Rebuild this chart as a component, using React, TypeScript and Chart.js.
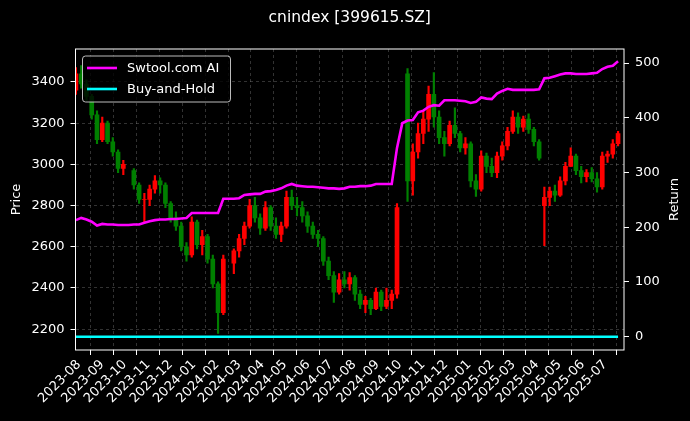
import React, { useEffect, useRef } from 'react';
import { Chart, registerables } from 'chart.js';

Chart.register(...registerables);

const TITLE = 'cnindex [399615.SZ]';
const STRATEGY_LABEL = 'Swtool.com AI';
const BUYHOLD_LABEL = 'Buy-and-Hold';
const PRICE_LABEL = 'Price';
const RETURN_LABEL = 'Return';

// weekly candles (Friday of each week); null = market closed that week
const weekDates = [
  '2023-07-28','2023-08-04','2023-08-11','2023-08-18','2023-08-25','2023-09-01','2023-09-08','2023-09-15','2023-09-22','2023-09-29',
  '2023-10-06','2023-10-13','2023-10-20','2023-10-27','2023-11-03','2023-11-10','2023-11-17','2023-11-24','2023-12-01','2023-12-08',
  '2023-12-15','2023-12-22','2023-12-29','2024-01-05','2024-01-12','2024-01-19','2024-01-26','2024-02-02','2024-02-09','2024-02-16',
  '2024-02-23','2024-03-01','2024-03-08','2024-03-15','2024-03-22','2024-03-29','2024-04-05','2024-04-12','2024-04-19','2024-04-26',
  '2024-05-03','2024-05-10','2024-05-17','2024-05-24','2024-05-31','2024-06-07','2024-06-14','2024-06-21','2024-06-28','2024-07-05',
  '2024-07-12','2024-07-19','2024-07-26','2024-08-02','2024-08-09','2024-08-16','2024-08-23','2024-08-30','2024-09-06','2024-09-13',
  '2024-09-20','2024-09-27','2024-10-04','2024-10-11','2024-10-18','2024-10-25','2024-11-01','2024-11-08','2024-11-15','2024-11-22',
  '2024-11-29','2024-12-06','2024-12-13','2024-12-20','2024-12-27','2025-01-03','2025-01-10','2025-01-17','2025-01-24','2025-01-31',
  '2025-02-07','2025-02-14','2025-02-21','2025-02-28','2025-03-07','2025-03-14','2025-03-21','2025-03-28','2025-04-04','2025-04-11',
  '2025-04-18','2025-04-25','2025-05-02','2025-05-09','2025-05-16','2025-05-23','2025-05-30','2025-06-06','2025-06-13','2025-06-20',
  '2025-06-27','2025-07-04','2025-07-11','2025-07-18',
];

const opens: (number | null)[] = [
  3360,3440,3390,3330,3240,3120,3200,3110,3060,2980,
  null,2970,2900,2830,2830,2880,2920,2900,2810,2740,
  2700,2600,2560,2720,2610,2650,2540,2420,2280,null,
  2520,2580,2640,2700,2800,2740,2690,2790,2700,2660,
  2700,2840,2800,2790,2750,2700,2660,2640,2530,2460,
  2380,2440,2420,2450,2370,2320,2340,2300,2380,2310,
  2340,2370,null,3440,2920,3060,3150,3220,3340,3230,
  3130,3100,3190,3150,3080,3100,2920,2880,3040,2990,
  2960,3040,3090,3160,3230,3180,3220,3170,3110,2800,
  2840,2870,2850,2920,2990,3040,2970,2940,2960,2930,
  2890,3040,3050,3100,
];
const highs: (number | null)[] = [
  3470,3480,3410,3340,3260,3230,3210,3130,3070,3020,
  null,2980,2910,2860,2900,2945,2935,2910,2820,2770,
  2720,2620,2745,2730,2680,2660,2560,2430,2560,null,
  2590,2660,2720,2830,2840,2760,2820,2800,2740,2720,
  2870,2875,2840,2820,2770,2720,2680,2650,2550,2480,
  2470,2480,2475,2460,2390,2360,2350,2400,2390,2400,
  2390,2810,null,3465,3100,3200,3260,3380,3445,3260,
  3160,3210,3275,3160,3130,3110,2950,3066,3055,3030,
  3060,3110,3180,3260,3250,3235,3245,3180,3120,2890,
  2890,2900,2940,3010,3080,3050,2990,2975,2985,2960,
  3060,3065,3120,3160,
];
const lows: (number | null)[] = [
  3340,3370,3310,3220,3100,3110,3100,3040,2960,2950,
  null,2880,2810,2720,2800,2860,2860,2790,2720,2680,
  2580,2530,2550,2590,2560,2520,2400,2180,2270,null,
  2470,2550,2610,2690,2720,2660,2680,2680,2640,2625,
  2690,2780,2750,2720,2670,2640,2600,2510,2440,2330,
  2370,2400,2390,2340,2300,2280,2270,2295,2290,2300,
  2300,2350,null,2820,2850,3030,3100,3160,3180,3100,
  3040,3090,3130,3060,3050,2890,2845,2870,2960,2940,
  2935,3020,3070,3150,3150,3160,3150,3090,3020,2605,
  2800,2820,2845,2900,2990,2950,2910,2915,2915,2865,
  2880,3010,3030,3090,
];
const closes: (number | null)[] = [
  3440,3390,3330,3240,3120,3200,3110,3060,2980,3000,
  null,2900,2830,2830,2880,2920,2900,2810,2740,2700,
  2600,2560,2720,2610,2650,2540,2420,2280,2540,null,
  2580,2640,2700,2800,2740,2690,2790,2700,2660,2700,
  2840,2800,2790,2750,2700,2660,2640,2530,2460,2380,
  2440,2420,2450,2370,2320,2340,2300,2380,2310,2340,
  2370,2790,null,2920,3060,3150,3220,3340,3230,3130,
  3100,3190,3150,3080,3100,2920,2880,3040,2990,2960,
  3040,3090,3160,3230,3180,3220,3170,3110,3030,2840,
  2870,2850,2920,2990,3040,2970,2940,2960,2930,2890,
  3040,3050,3100,3150,
];

// cumulative return (%) of the strategy, same weekly dates
const strategyReturn = [
  213,217,214,210,203,206,205,205,204,204,
  204,205,205,208,211,213,214,214,215,215,
  216,217,226,226,226,226,226,226,252,252,
  252,253,259,260,261,261,265,266,268,271,
  276,279,276,275,274,274,273,272,271,271,
  270,271,274,274,275,275,276,279,279,279,
  279,345,390,395,396,410,413,420,423,422,
  432,432,432,431,430,427,429,437,435,434,
  444,449,453,451,451,451,451,451,452,472,
  473,476,479,481,481,480,480,480,481,482,
  489,493,495,503,
];

const buyHoldDates = ['2023-07-28', '2025-07-18'];
const buyHoldReturn = [0, 0];

const monthTicks = [
  '2023-08','2023-09','2023-10','2023-11','2023-12','2024-01','2024-02','2024-03','2024-04','2024-05','2024-06','2024-07',
  '2024-08','2024-09','2024-10','2024-11','2024-12','2025-01','2025-02','2025-03','2025-04','2025-05','2025-06','2025-07',
];
const priceTicks = [2200, 2400, 2600, 2800, 3000, 3200, 3400];
const returnTicks = [0, 100, 200, 300, 400, 500];

const FONT = "'DejaVu Sans', sans-serif";
const UP = '#ff0000';
const DOWN = '#008000';
const GRID = 'rgba(140,140,140,0.45)';

const dayOf = (s: string) => {
  const [y, m, d] = s.split('-').map(Number);
  return Date.UTC(y, m - 1, d || 1) / 86400000;
};

export default function App() {
  const ref = useRef<HTMLCanvasElement | null>(null);

  useEffect(() => {
    document.body.style.margin = '0';
    const canvas = ref.current;
    if (!canvas) return;

    const idx = weekDates.map((_, i) => i).filter((i) => opens[i] != null);
    const colors = idx.map((i) => ((closes[i] as number) >= (opens[i] as number) ? UP : DOWN));
    const wickData = idx.map((i) => ({ x: dayOf(weekDates[i]), y: [lows[i], highs[i]] }));
    const bodyData = idx.map((i) => ({ x: dayOf(weekDates[i]), y: [opens[i], closes[i]] }));

    const xMin = dayOf('2023-08-01') - 4.6;
    const xMax = dayOf('2025-07-01') + 24.9;

    const tickFont = { family: FONT, size: 13 };

    const overlay = {
      id: 'overlay',
      afterDraw(chart: any) {
        const { ctx, chartArea: a } = chart;
        ctx.save();
        // spines
        ctx.strokeStyle = '#ffffff';
        ctx.lineWidth = 1;
        ctx.strokeRect(a.left, a.top, a.right - a.left, a.bottom - a.top);
        // title
        ctx.fillStyle = '#ffffff';
        ctx.font = `15.5px ${FONT}`;
        ctx.textAlign = 'center';
        ctx.textBaseline = 'alphabetic';
        ctx.fillText(TITLE, (a.left + a.right) / 2, 22);
        // right axis title (reads bottom to top)
        ctx.save();
        ctx.font = `13px ${FONT}`;
        ctx.textBaseline = 'middle';
        ctx.translate(675, (a.top + a.bottom) / 2);
        ctx.rotate(-Math.PI / 2);
        ctx.fillText(RETURN_LABEL, 0, 0);
        ctx.restore();
        // legend
        const lx = a.left + 7, ly = a.top + 7, lw = 148, lh = 46, r = 3;
        ctx.beginPath();
        ctx.moveTo(lx + r, ly);
        ctx.lineTo(lx + lw - r, ly);
        ctx.quadraticCurveTo(lx + lw, ly, lx + lw, ly + r);
        ctx.lineTo(lx + lw, ly + lh - r);
        ctx.quadraticCurveTo(lx + lw, ly + lh, lx + lw - r, ly + lh);
        ctx.lineTo(lx + r, ly + lh);
        ctx.quadraticCurveTo(lx, ly + lh, lx, ly + lh - r);
        ctx.lineTo(lx, ly + r);
        ctx.quadraticCurveTo(lx, ly, lx + r, ly);
        ctx.closePath();
        ctx.fillStyle = 'rgba(0,0,0,0.8)';
        ctx.fill();
        ctx.strokeStyle = 'rgba(220,220,220,0.85)';
        ctx.lineWidth = 1;
        ctx.stroke();
        const items = chart.data.datasets.filter((d: any) => d.type === 'line');
        ctx.font = `13px ${FONT}`;
        ctx.textAlign = 'left';
        ctx.textBaseline = 'middle';
        items.forEach((d: any, k: number) => {
          const yy = ly + 12 + k * 21;
          ctx.strokeStyle = d.borderColor;
          ctx.lineWidth = 2.6;
          ctx.beginPath();
          ctx.moveTo(lx + 4.5, yy);
          ctx.lineTo(lx + 34.5, yy);
          ctx.stroke();
          ctx.fillStyle = '#ffffff';
          ctx.fillText(d.label, lx + 44.5, yy + 0.5);
        });
        ctx.restore();
      },
    };

    const chart = new Chart(canvas, {
      type: 'line',
      data: {
        datasets: [
          {
            type: 'line',
            label: STRATEGY_LABEL,
            data: weekDates.map((d, i) => ({ x: dayOf(d), y: strategyReturn[i] })),
            yAxisID: 'y1',
            borderColor: '#ff00ff',
            borderWidth: 2.6,
            pointRadius: 0,
            tension: 0,
            order: 0,
          },
          {
            type: 'line',
            label: BUYHOLD_LABEL,
            data: buyHoldDates.map((d, i) => ({ x: dayOf(d), y: buyHoldReturn[i] })),
            yAxisID: 'y1',
            borderColor: '#00ffff',
            borderWidth: 2.6,
            pointRadius: 0,
            tension: 0,
            order: 0,
          },
          {
            type: 'bar',
            label: 'wick',
            data: wickData as any,
            yAxisID: 'y',
            backgroundColor: colors,
            barThickness: 1.5,
            grouped: false,
            order: 2,
          },
          {
            type: 'bar',
            label: 'body',
            data: bodyData as any,
            yAxisID: 'y',
            backgroundColor: colors,
            barThickness: 4,
            grouped: false,
            order: 1,
          },
        ] as any,
      },
      options: {
        responsive: false,
        animation: false,
        devicePixelRatio: 1,
        layout: { padding: { top: 49, left: 0, right: 0, bottom: 0 } },
        plugins: { legend: { display: false }, tooltip: { enabled: false }, title: { display: false } },
        scales: {
          x: {
            type: 'linear',
            min: xMin,
            max: xMax,
            offset: false,
            afterBuildTicks: (s: any) => {
              s.ticks = monthTicks.map((m) => ({ value: dayOf(m + '-01') }));
            },
            afterFit: (s: any) => {
              s.height = 71;
            },
            ticks: {
              color: '#ffffff',
              font: tickFont,
              minRotation: 45,
              maxRotation: 45,
              autoSkip: false,
              padding: 2,
              callback: (_v: any, i: number) => monthTicks[i],
            },
            grid: { color: GRID, lineWidth: 0.8, tickColor: '#ffffff', tickLength: 5, tickWidth: 1 },
            border: { display: false, dash: [3, 3] },
          },
          y: {
            type: 'linear',
            position: 'left',
            min: 2099,
            max: 3560,
            afterBuildTicks: (s: any) => {
              s.ticks = priceTicks.map((v) => ({ value: v }));
            },
            afterFit: (s: any) => {
              s.width = 75.5;
            },
            title: { display: true, text: PRICE_LABEL, color: '#ffffff', font: { family: FONT, size: 13 }, padding: { top: 9, bottom: 0 } },
            ticks: { color: '#ffffff', font: tickFont, padding: 6, callback: (v: any) => String(v) },
            grid: { color: GRID, lineWidth: 0.8, tickColor: '#ffffff', tickLength: 5, tickWidth: 1 },
            border: { display: false, dash: [3, 3] },
          },
          y1: {
            type: 'linear',
            position: 'right',
            min: -24.3,
            max: 525.6,
            afterBuildTicks: (s: any) => {
              s.ticks = returnTicks.map((v) => ({ value: v }));
            },
            afterFit: (s: any) => {
              s.width = 66;
            },
            title: { display: false },
            ticks: { color: '#ffffff', font: tickFont, padding: 6, callback: (v: any) => String(v) },
            grid: { drawOnChartArea: false, tickColor: '#ffffff', tickLength: 5, tickWidth: 1 },
            border: { display: false },
          },
        },
      } as any,
      plugins: [overlay],
    });

    return () => chart.destroy();
  }, []);

  return (
    <div style={{ position: 'fixed', left: 0, top: 0, width: 690, height: 421, background: '#000' }}>
      <canvas ref={ref} width={690} height={421} style={{ width: 690, height: 421, display: 'block' }} />
    </div>
  );
}
